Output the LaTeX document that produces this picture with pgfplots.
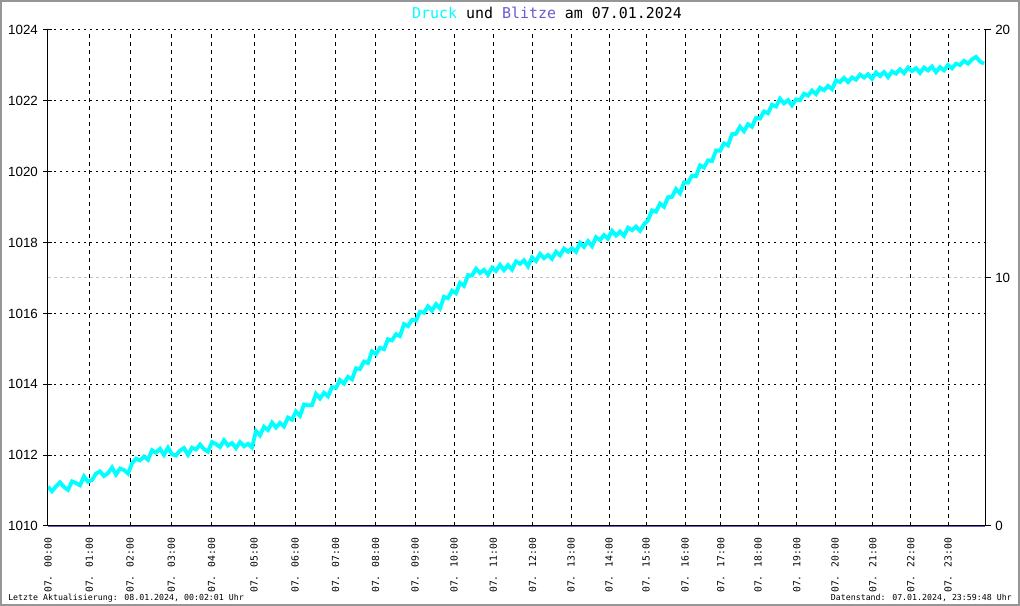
\documentclass[border=0pt]{standalone}
\usepackage{fontspec}
\setmainfont{Liberation Sans}
\newfontfamily\monofont{DejaVu Sans Mono}
\usepackage{pgfplots}
\pgfplotsset{compat=1.18}
\definecolor{druck}{RGB}{0,255,255}
\definecolor{blitze}{RGB}{106,90,205}
\definecolor{framegray}{RGB}{150,150,150}
\definecolor{gridgray}{RGB}{195,195,195}

% x values are positions along the time axis (hour ticks are not evenly spaced in the source)
\begin{document}
\begin{tikzpicture}
\useasboundingbox (-36pt,-60pt) rectangle (729pt,394.5pt);
\draw[framegray, line width=1.5pt] (-35.25pt,-59.25pt) rectangle (728.25pt,393.75pt);

% right axis: Blitze
\begin{axis}[
  scale only axis, width=702.75pt, height=372pt,
  xmin=48, xmax=985, ymin=0, ymax=20,
  axis x line=none, axis y line*=right,
  ytick pos=right, yticklabel pos=right,
  ytick={0,20},
  extra y ticks={10},
  extra y tick style={ymajorgrids=true, y grid style={gridgray, line width=0.75pt, dash pattern=on 2.25pt off 2.25pt}},
  axis line style={-, line width=0.75pt},
  every outer y axis line/.append style={-},
  tick align=outside, major tick length=4.5pt,
  ytick style={black, line width=0.75pt},
  yticklabel style={font=\fontsize{10}{12}\selectfont, inner sep=0pt},
  yticklabel shift=3pt,
  /pgf/number format/assume math mode=true,
  clip=false,
]
\addplot[blitze, line width=1.3pt] coordinates {(48,0) (985,0)};
\end{axis}

% left axis: Druck
\begin{axis}[
  scale only axis, width=702.75pt, height=372pt,
  xmin=48, xmax=985, ymin=1010, ymax=1024,
  axis x line*=bottom, axis y line*=left,
  xtick pos=bottom, ytick pos=left, yticklabel pos=left,
  axis line style={-, line width=0.75pt},
  every outer x axis line/.append style={-},
  every outer y axis line/.append style={-},
  xtick={48,89.3,130,171.3,211.7,254,295,335.7,375.7,415,454,493.3,532.5,571,609,646,685,720.7,758,796.7,835,872.7,910.7,948},
  xticklabels={07. 00:00,07. 01:00,07. 02:00,07. 03:00,07. 04:00,07. 05:00,07. 06:00,07. 07:00,07. 08:00,07. 09:00,07. 10:00,07. 11:00,07. 12:00,07. 13:00,07. 14:00,07. 15:00,07. 16:00,07. 17:00,07. 18:00,07. 19:00,07. 20:00,07. 21:00,07. 22:00,07. 23:00},
  ytick={1010,1012,...,1024},
  xmajorgrids, ymajorgrids,
  x grid style={black, line width=0.75pt, dash pattern=on 3pt off 3pt},
  y grid style={black, line width=0.75pt, dash pattern=on 1.5pt off 3pt},
  xtick style={draw=none},
  ytick style={black, line width=0.75pt},
  tick align=center, major tick length=6.75pt,
  xticklabel style={font=\monofont\fontsize{7.3}{8}\selectfont, rotate=90, anchor=east, inner sep=0pt},
  xticklabel shift=5.5pt,
  yticklabel style={font=\fontsize{10}{12}\selectfont, inner sep=0pt},
  yticklabel shift=4pt,
  /pgf/number format/1000 sep={},
  /pgf/number format/assume math mode=true,
]
\addplot[druck, line width=2.9pt, sharp plot] coordinates {
(48,1011.11) (52,1010.98) (56,1011.12) (60,1011.23) (64,1011.10) (68,1011.02) (72,1011.26) (76,1011.21)
(80,1011.15) (84,1011.40) (88,1011.25) (92,1011.30) (96,1011.48) (100,1011.54) (104,1011.41) (108,1011.49)
(112,1011.65) (116,1011.45) (120,1011.62) (124,1011.58) (128,1011.48) (132,1011.77) (136,1011.90) (140,1011.85)
(144,1011.96) (148,1011.87) (152,1012.14) (156,1012.07) (160,1012.18) (164,1012.01) (168,1012.21) (172,1012.02)
(176,1011.99) (180,1012.13) (184,1012.20) (188,1012.01) (192,1012.21) (196,1012.16) (200,1012.30) (204,1012.17)
(208,1012.10) (212,1012.37) (216,1012.31) (220,1012.23) (224,1012.42) (228,1012.27) (232,1012.34) (236,1012.20)
(240,1012.37) (244,1012.25) (248,1012.32) (252,1012.22) (256,1012.68) (260,1012.56) (264,1012.80) (268,1012.71)
(272,1012.92) (276,1012.78) (280,1012.91) (284,1012.81) (288,1013.06) (292,1013.00) (296,1013.23) (300,1013.11)
(304,1013.43) (308,1013.41) (312,1013.41) (316,1013.73) (320,1013.60) (324,1013.76) (328,1013.66) (332,1013.92)
(336,1013.90) (340,1014.12) (344,1014.02) (348,1014.21) (352,1014.14) (356,1014.45) (360,1014.43) (364,1014.64)
(368,1014.60) (372,1014.93) (376,1014.85) (380,1015.03) (384,1014.99) (388,1015.27) (392,1015.24) (396,1015.41)
(400,1015.36) (404,1015.70) (408,1015.64) (412,1015.82) (416,1015.80) (420,1016.05) (424,1016.02) (428,1016.20)
(432,1016.08) (436,1016.26) (440,1016.14) (444,1016.47) (448,1016.43) (452,1016.64) (456,1016.57) (460,1016.86)
(464,1016.78) (468,1017.08) (472,1017.07) (476,1017.26) (480,1017.14) (484,1017.23) (488,1017.09) (492,1017.29)
(496,1017.20) (500,1017.37) (504,1017.22) (508,1017.36) (512,1017.24) (516,1017.47) (520,1017.40) (524,1017.50)
(528,1017.33) (532,1017.58) (536,1017.48) (540,1017.68) (544,1017.56) (548,1017.65) (552,1017.54) (556,1017.74)
(560,1017.64) (564,1017.83) (568,1017.74) (572,1017.84) (576,1017.74) (580,1017.99) (584,1017.88) (588,1018.04)
(592,1017.90) (596,1018.15) (600,1018.07) (604,1018.21) (608,1018.11) (612,1018.33) (616,1018.20) (620,1018.31)
(624,1018.19) (628,1018.42) (632,1018.35) (636,1018.45) (640,1018.33) (644,1018.51) (648,1018.63) (652,1018.91)
(656,1018.87) (660,1019.10) (664,1019.01) (668,1019.28) (672,1019.29) (676,1019.51) (680,1019.39) (684,1019.70)
(688,1019.69) (692,1019.89) (696,1019.87) (700,1020.18) (704,1020.12) (708,1020.32) (712,1020.30) (716,1020.60)
(720,1020.59) (724,1020.80) (728,1020.74) (732,1021.06) (736,1021.07) (740,1021.27) (744,1021.14) (748,1021.34)
(752,1021.27) (756,1021.52) (760,1021.50) (764,1021.70) (768,1021.65) (772,1021.89) (776,1021.84) (780,1022.06)
(784,1021.93) (788,1022.02) (792,1021.87) (796,1022.04) (800,1022.02) (804,1022.20) (808,1022.15) (812,1022.29)
(816,1022.19) (820,1022.37) (824,1022.30) (828,1022.42) (832,1022.33) (836,1022.58) (840,1022.53) (844,1022.65)
(848,1022.53) (852,1022.66) (856,1022.60) (860,1022.74) (864,1022.66) (868,1022.75) (872,1022.62) (876,1022.80)
(880,1022.70) (884,1022.81) (888,1022.67) (892,1022.83) (896,1022.77) (900,1022.89) (904,1022.78) (908,1022.94)
(912,1022.84) (916,1022.92) (920,1022.79) (924,1022.94) (928,1022.86) (932,1022.97) (936,1022.81) (940,1022.95)
(944,1022.86) (948,1023.01) (952,1022.92) (956,1023.05) (960,1023.01) (964,1023.13) (968,1023.05) (972,1023.17)
(976,1023.24) (980,1023.11) (984,1023.05)
};
\end{axis}

\node[font=\monofont\fontsize{11.2}{13}\selectfont] at (374.25pt,384.75pt)
  {\textcolor{druck}{Druck} und \textcolor{blitze}{Blitze} am 07.01.2024};
\node[anchor=west, inner sep=0pt, font=\monofont\fontsize{6.2}{7}\selectfont] at (-30pt,-54pt)
  {Letzte Aktualisierung: 08.01.2024, 00:02:01 Uhr};
\node[anchor=east, inner sep=0pt, font=\monofont\fontsize{6.2}{7}\selectfont] at (723pt,-54pt)
  {Datenstand: 07.01.2024, 23:59:48 Uhr};
\end{tikzpicture}
\end{document}
